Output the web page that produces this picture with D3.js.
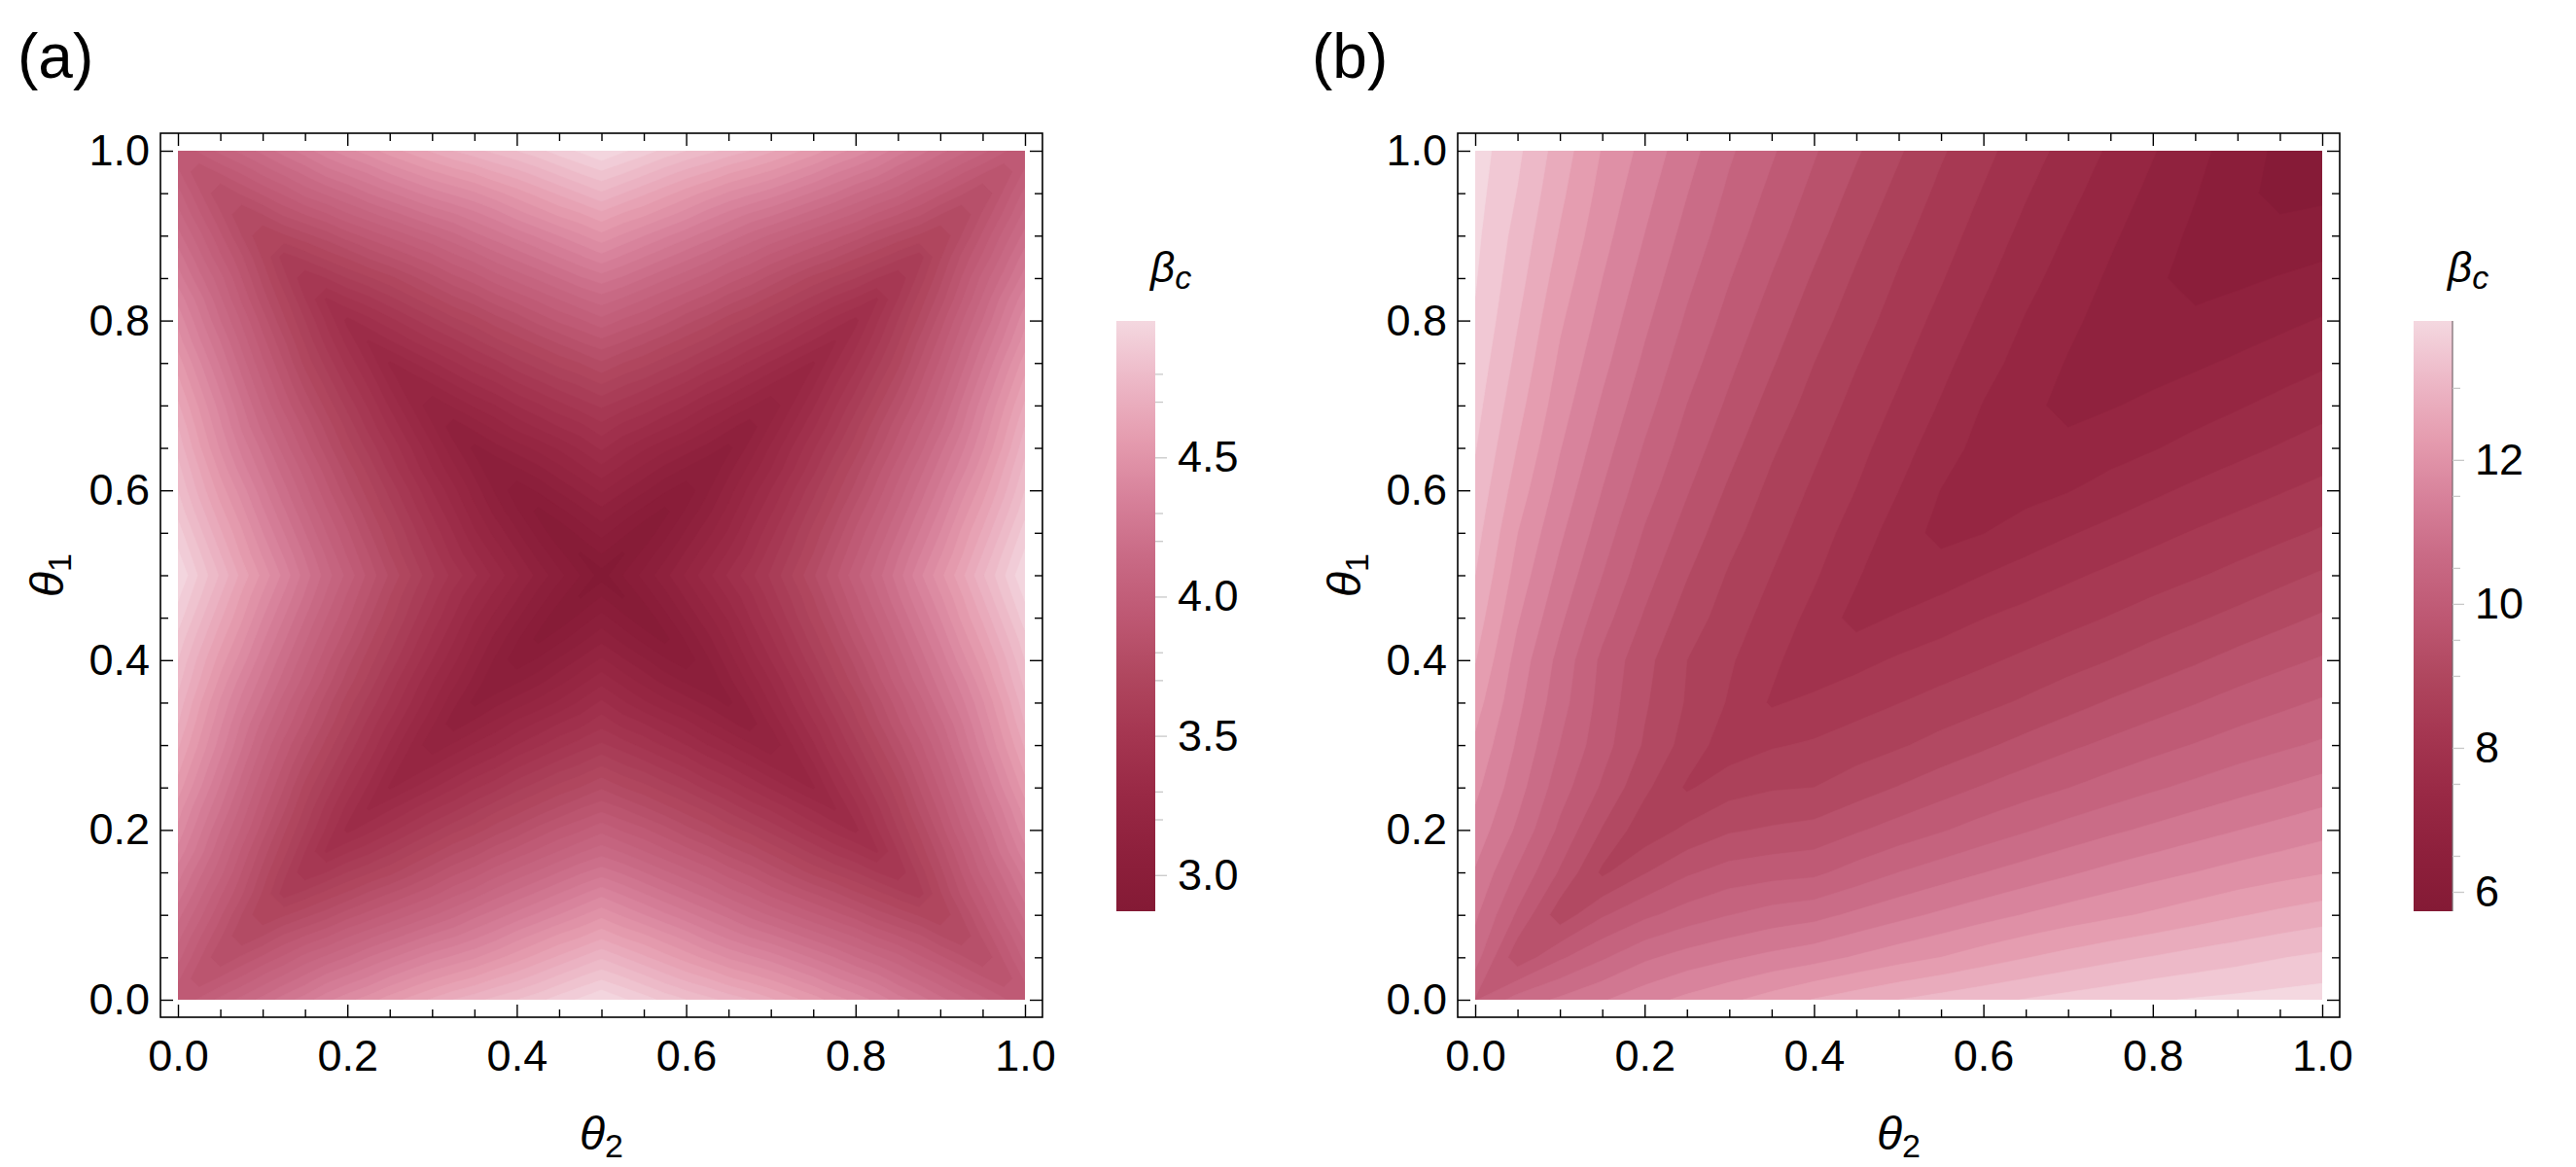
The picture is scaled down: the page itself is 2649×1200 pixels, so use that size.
<!DOCTYPE html>
<html>
<head>
<meta charset="utf-8">
<script src="https://cdn.jsdelivr.net/npm/d3@7"></script>
<style>
  body { margin: 0; background: #fff; }
  svg { display: block; }
  text { font-family: "Liberation Sans", Arial, sans-serif; fill: #000; }
</style>
</head>
<body>
<div id="chart"></div>
<script>
(function() {
    'use strict';

    // sample positions (same for theta1 rows and theta2 columns)
    var gridA = [0, 0.025, 0.05, 0.075, 0.1, 0.125, 0.15, 0.175, 0.2, 0.225, 0.25, 0.275, 0.3, 0.325,
                 0.35, 0.375, 0.4, 0.425, 0.45, 0.475, 0.5, 0.525, 0.55, 0.575, 0.6, 0.625, 0.65,
                 0.675, 0.7, 0.725, 0.75, 0.775, 0.8, 0.825, 0.85, 0.875, 0.9, 0.925, 0.95, 0.975, 1];
    var gridB = [0, 0.05, 0.1, 0.15, 0.2, 0.25, 0.3, 0.35, 0.4, 0.45, 0.5,
                 0.55, 0.6, 0.65, 0.7, 0.75, 0.8, 0.85, 0.9, 0.95, 1];
    var axisTicks = [0, 0.2, 0.4, 0.6, 0.8, 1.0];
    var axisMinorTicks = [0.05, 0.1, 0.15, 0.25, 0.3, 0.35, 0.45, 0.5, 0.55,
                          0.65, 0.7, 0.75, 0.85, 0.9, 0.95];

    // panel (a): beta_c, row = theta1 (0 -> 1), column = theta2 (0 -> 1)
    var betaA = [
        [3.93,3.99,4.06,4.12,4.18,4.25,4.31,4.38,4.44,4.49,4.55,4.60,4.65,4.70,4.74,4.78,4.82,4.86,4.91,4.95,5.00,4.95,4.91,4.86,4.82,4.78,4.74,4.70,4.65,4.60,4.55,4.49,4.44,4.38,4.31,4.25,4.18,4.12,4.06,3.99,3.93],
        [3.99,3.87,3.93,3.99,4.06,4.12,4.18,4.25,4.30,4.35,4.41,4.46,4.51,4.55,4.59,4.64,4.68,4.73,4.78,4.83,4.87,4.83,4.78,4.73,4.68,4.64,4.59,4.55,4.51,4.46,4.41,4.35,4.30,4.25,4.18,4.12,4.06,3.99,3.93,3.87,3.99],
        [4.06,3.93,3.80,3.87,3.93,3.99,4.06,4.11,4.16,4.22,4.27,4.32,4.37,4.41,4.45,4.50,4.55,4.60,4.65,4.70,4.75,4.70,4.65,4.60,4.55,4.50,4.45,4.41,4.37,4.32,4.27,4.22,4.16,4.11,4.06,3.99,3.93,3.87,3.80,3.93,4.06],
        [4.12,3.99,3.87,3.74,3.80,3.87,3.92,3.97,4.03,4.08,4.13,4.18,4.23,4.27,4.32,4.37,4.43,4.48,4.53,4.57,4.62,4.57,4.53,4.48,4.43,4.37,4.32,4.27,4.23,4.18,4.13,4.08,4.03,3.97,3.92,3.87,3.80,3.74,3.87,3.99,4.12],
        [4.18,4.06,3.93,3.80,3.68,3.73,3.78,3.83,3.89,3.94,3.99,4.04,4.09,4.14,4.20,4.25,4.30,4.35,4.40,4.45,4.50,4.45,4.40,4.35,4.30,4.25,4.20,4.14,4.09,4.04,3.99,3.94,3.89,3.83,3.78,3.73,3.68,3.80,3.93,4.06,4.18],
        [4.25,4.12,3.99,3.87,3.73,3.59,3.64,3.70,3.75,3.81,3.86,3.91,3.96,4.02,4.07,4.13,4.18,4.23,4.28,4.33,4.38,4.33,4.28,4.23,4.18,4.13,4.07,4.02,3.96,3.91,3.86,3.81,3.75,3.70,3.64,3.59,3.73,3.87,3.99,4.12,4.25],
        [4.31,4.18,4.06,3.92,3.78,3.64,3.51,3.56,3.62,3.67,3.72,3.78,3.84,3.90,3.95,4.01,4.06,4.11,4.16,4.21,4.25,4.21,4.16,4.11,4.06,4.01,3.95,3.90,3.84,3.78,3.72,3.67,3.62,3.56,3.51,3.64,3.78,3.92,4.06,4.18,4.31],
        [4.38,4.25,4.11,3.97,3.83,3.70,3.56,3.43,3.49,3.54,3.60,3.66,3.72,3.78,3.83,3.89,3.94,3.99,4.04,4.09,4.13,4.09,4.04,3.99,3.94,3.89,3.83,3.78,3.72,3.66,3.60,3.54,3.49,3.43,3.56,3.70,3.83,3.97,4.11,4.25,4.38],
        [4.44,4.30,4.16,4.03,3.89,3.75,3.62,3.49,3.36,3.42,3.48,3.54,3.60,3.66,3.71,3.77,3.82,3.88,3.93,3.97,4.02,3.97,3.93,3.88,3.82,3.77,3.71,3.66,3.60,3.54,3.48,3.42,3.36,3.49,3.62,3.75,3.89,4.03,4.16,4.30,4.44],
        [4.49,4.35,4.22,4.08,3.94,3.81,3.67,3.54,3.42,3.31,3.37,3.43,3.49,3.54,3.60,3.66,3.71,3.76,3.81,3.86,3.90,3.86,3.81,3.76,3.71,3.66,3.60,3.54,3.49,3.43,3.37,3.31,3.42,3.54,3.67,3.81,3.94,4.08,4.22,4.35,4.49],
        [4.55,4.41,4.27,4.13,3.99,3.86,3.72,3.60,3.48,3.37,3.25,3.31,3.37,3.43,3.49,3.54,3.60,3.65,3.70,3.74,3.79,3.74,3.70,3.65,3.60,3.54,3.49,3.43,3.37,3.31,3.25,3.37,3.48,3.60,3.72,3.86,3.99,4.13,4.27,4.41,4.55],
        [4.60,4.46,4.32,4.18,4.04,3.91,3.78,3.66,3.54,3.43,3.31,3.20,3.26,3.32,3.38,3.43,3.49,3.54,3.59,3.63,3.68,3.63,3.59,3.54,3.49,3.43,3.38,3.32,3.26,3.20,3.31,3.43,3.54,3.66,3.78,3.91,4.04,4.18,4.32,4.46,4.60],
        [4.65,4.51,4.37,4.23,4.09,3.96,3.84,3.72,3.60,3.49,3.37,3.26,3.15,3.21,3.27,3.32,3.38,3.43,3.48,3.53,3.57,3.53,3.48,3.43,3.38,3.32,3.27,3.21,3.15,3.26,3.37,3.49,3.60,3.72,3.84,3.96,4.09,4.23,4.37,4.51,4.65],
        [4.70,4.55,4.41,4.27,4.14,4.02,3.90,3.78,3.66,3.54,3.43,3.32,3.21,3.10,3.16,3.22,3.28,3.33,3.38,3.42,3.48,3.42,3.38,3.33,3.28,3.22,3.16,3.10,3.21,3.32,3.43,3.54,3.66,3.78,3.90,4.02,4.14,4.27,4.41,4.55,4.70],
        [4.74,4.59,4.45,4.32,4.20,4.07,3.95,3.83,3.71,3.60,3.49,3.38,3.27,3.16,3.06,3.12,3.17,3.22,3.27,3.33,3.39,3.33,3.27,3.22,3.17,3.12,3.06,3.16,3.27,3.38,3.49,3.60,3.71,3.83,3.95,4.07,4.20,4.32,4.45,4.59,4.74],
        [4.78,4.64,4.50,4.37,4.25,4.13,4.01,3.89,3.77,3.66,3.54,3.43,3.32,3.22,3.12,3.02,3.07,3.12,3.18,3.24,3.30,3.24,3.18,3.12,3.07,3.02,3.12,3.22,3.32,3.43,3.54,3.66,3.77,3.89,4.01,4.13,4.25,4.37,4.50,4.64,4.78],
        [4.82,4.68,4.55,4.43,4.30,4.18,4.06,3.94,3.82,3.71,3.60,3.49,3.38,3.28,3.17,3.07,2.98,3.03,3.09,3.15,3.21,3.15,3.09,3.03,2.98,3.07,3.17,3.28,3.38,3.49,3.60,3.71,3.82,3.94,4.06,4.18,4.30,4.43,4.55,4.68,4.82],
        [4.86,4.73,4.60,4.48,4.35,4.23,4.11,3.99,3.88,3.76,3.65,3.54,3.43,3.33,3.22,3.12,3.03,2.94,3.00,3.06,3.12,3.06,3.00,2.94,3.03,3.12,3.22,3.33,3.43,3.54,3.65,3.76,3.88,3.99,4.11,4.23,4.35,4.48,4.60,4.73,4.86],
        [4.91,4.78,4.65,4.53,4.40,4.28,4.16,4.04,3.93,3.81,3.70,3.59,3.48,3.38,3.27,3.18,3.09,3.00,2.91,2.98,3.04,2.98,2.91,3.00,3.09,3.18,3.27,3.38,3.48,3.59,3.70,3.81,3.93,4.04,4.16,4.28,4.40,4.53,4.65,4.78,4.91],
        [4.95,4.83,4.70,4.57,4.45,4.33,4.21,4.09,3.97,3.86,3.74,3.63,3.53,3.42,3.33,3.24,3.15,3.06,2.98,2.89,2.96,2.89,2.98,3.06,3.15,3.24,3.33,3.42,3.53,3.63,3.74,3.86,3.97,4.09,4.21,4.33,4.45,4.57,4.70,4.83,4.95],
        [5.00,4.87,4.75,4.62,4.50,4.38,4.25,4.13,4.02,3.90,3.79,3.68,3.57,3.48,3.39,3.30,3.21,3.12,3.04,2.96,2.87,2.96,3.04,3.12,3.21,3.30,3.39,3.48,3.57,3.68,3.79,3.90,4.02,4.13,4.25,4.38,4.50,4.62,4.75,4.87,5.00],
        [4.95,4.83,4.70,4.57,4.45,4.33,4.21,4.09,3.97,3.86,3.74,3.63,3.53,3.42,3.33,3.24,3.15,3.06,2.98,2.89,2.96,2.89,2.98,3.06,3.15,3.24,3.33,3.42,3.53,3.63,3.74,3.86,3.97,4.09,4.21,4.33,4.45,4.57,4.70,4.83,4.95],
        [4.91,4.78,4.65,4.53,4.40,4.28,4.16,4.04,3.93,3.81,3.70,3.59,3.48,3.38,3.27,3.18,3.09,3.00,2.91,2.98,3.04,2.98,2.91,3.00,3.09,3.18,3.27,3.38,3.48,3.59,3.70,3.81,3.93,4.04,4.16,4.28,4.40,4.53,4.65,4.78,4.91],
        [4.86,4.73,4.60,4.48,4.35,4.23,4.11,3.99,3.88,3.76,3.65,3.54,3.43,3.33,3.22,3.12,3.03,2.94,3.00,3.06,3.12,3.06,3.00,2.94,3.03,3.12,3.22,3.33,3.43,3.54,3.65,3.76,3.88,3.99,4.11,4.23,4.35,4.48,4.60,4.73,4.86],
        [4.82,4.68,4.55,4.43,4.30,4.18,4.06,3.94,3.82,3.71,3.60,3.49,3.38,3.28,3.17,3.07,2.98,3.03,3.09,3.15,3.21,3.15,3.09,3.03,2.98,3.07,3.17,3.28,3.38,3.49,3.60,3.71,3.82,3.94,4.06,4.18,4.30,4.43,4.55,4.68,4.82],
        [4.78,4.64,4.50,4.37,4.25,4.13,4.01,3.89,3.77,3.66,3.54,3.43,3.32,3.22,3.12,3.02,3.07,3.12,3.18,3.24,3.30,3.24,3.18,3.12,3.07,3.02,3.12,3.22,3.32,3.43,3.54,3.66,3.77,3.89,4.01,4.13,4.25,4.37,4.50,4.64,4.78],
        [4.74,4.59,4.45,4.32,4.20,4.07,3.95,3.83,3.71,3.60,3.49,3.38,3.27,3.16,3.06,3.12,3.17,3.22,3.27,3.33,3.39,3.33,3.27,3.22,3.17,3.12,3.06,3.16,3.27,3.38,3.49,3.60,3.71,3.83,3.95,4.07,4.20,4.32,4.45,4.59,4.74],
        [4.70,4.55,4.41,4.27,4.14,4.02,3.90,3.78,3.66,3.54,3.43,3.32,3.21,3.10,3.16,3.22,3.28,3.33,3.38,3.42,3.48,3.42,3.38,3.33,3.28,3.22,3.16,3.10,3.21,3.32,3.43,3.54,3.66,3.78,3.90,4.02,4.14,4.27,4.41,4.55,4.70],
        [4.65,4.51,4.37,4.23,4.09,3.96,3.84,3.72,3.60,3.49,3.37,3.26,3.15,3.21,3.27,3.32,3.38,3.43,3.48,3.53,3.57,3.53,3.48,3.43,3.38,3.32,3.27,3.21,3.15,3.26,3.37,3.49,3.60,3.72,3.84,3.96,4.09,4.23,4.37,4.51,4.65],
        [4.60,4.46,4.32,4.18,4.04,3.91,3.78,3.66,3.54,3.43,3.31,3.20,3.26,3.32,3.38,3.43,3.49,3.54,3.59,3.63,3.68,3.63,3.59,3.54,3.49,3.43,3.38,3.32,3.26,3.20,3.31,3.43,3.54,3.66,3.78,3.91,4.04,4.18,4.32,4.46,4.60],
        [4.55,4.41,4.27,4.13,3.99,3.86,3.72,3.60,3.48,3.37,3.25,3.31,3.37,3.43,3.49,3.54,3.60,3.65,3.70,3.74,3.79,3.74,3.70,3.65,3.60,3.54,3.49,3.43,3.37,3.31,3.25,3.37,3.48,3.60,3.72,3.86,3.99,4.13,4.27,4.41,4.55],
        [4.49,4.35,4.22,4.08,3.94,3.81,3.67,3.54,3.42,3.31,3.37,3.43,3.49,3.54,3.60,3.66,3.71,3.76,3.81,3.86,3.90,3.86,3.81,3.76,3.71,3.66,3.60,3.54,3.49,3.43,3.37,3.31,3.42,3.54,3.67,3.81,3.94,4.08,4.22,4.35,4.49],
        [4.44,4.30,4.16,4.03,3.89,3.75,3.62,3.49,3.36,3.42,3.48,3.54,3.60,3.66,3.71,3.77,3.82,3.88,3.93,3.97,4.02,3.97,3.93,3.88,3.82,3.77,3.71,3.66,3.60,3.54,3.48,3.42,3.36,3.49,3.62,3.75,3.89,4.03,4.16,4.30,4.44],
        [4.38,4.25,4.11,3.97,3.83,3.70,3.56,3.43,3.49,3.54,3.60,3.66,3.72,3.78,3.83,3.89,3.94,3.99,4.04,4.09,4.13,4.09,4.04,3.99,3.94,3.89,3.83,3.78,3.72,3.66,3.60,3.54,3.49,3.43,3.56,3.70,3.83,3.97,4.11,4.25,4.38],
        [4.31,4.18,4.06,3.92,3.78,3.64,3.51,3.56,3.62,3.67,3.72,3.78,3.84,3.90,3.95,4.01,4.06,4.11,4.16,4.21,4.25,4.21,4.16,4.11,4.06,4.01,3.95,3.90,3.84,3.78,3.72,3.67,3.62,3.56,3.51,3.64,3.78,3.92,4.06,4.18,4.31],
        [4.25,4.12,3.99,3.87,3.73,3.59,3.64,3.70,3.75,3.81,3.86,3.91,3.96,4.02,4.07,4.13,4.18,4.23,4.28,4.33,4.38,4.33,4.28,4.23,4.18,4.13,4.07,4.02,3.96,3.91,3.86,3.81,3.75,3.70,3.64,3.59,3.73,3.87,3.99,4.12,4.25],
        [4.18,4.06,3.93,3.80,3.68,3.73,3.78,3.83,3.89,3.94,3.99,4.04,4.09,4.14,4.20,4.25,4.30,4.35,4.40,4.45,4.50,4.45,4.40,4.35,4.30,4.25,4.20,4.14,4.09,4.04,3.99,3.94,3.89,3.83,3.78,3.73,3.68,3.80,3.93,4.06,4.18],
        [4.12,3.99,3.87,3.74,3.80,3.87,3.92,3.97,4.03,4.08,4.13,4.18,4.23,4.27,4.32,4.37,4.43,4.48,4.53,4.57,4.62,4.57,4.53,4.48,4.43,4.37,4.32,4.27,4.23,4.18,4.13,4.08,4.03,3.97,3.92,3.87,3.80,3.74,3.87,3.99,4.12],
        [4.06,3.93,3.80,3.87,3.93,3.99,4.06,4.11,4.16,4.22,4.27,4.32,4.37,4.41,4.45,4.50,4.55,4.60,4.65,4.70,4.75,4.70,4.65,4.60,4.55,4.50,4.45,4.41,4.37,4.32,4.27,4.22,4.16,4.11,4.06,3.99,3.93,3.87,3.80,3.93,4.06],
        [3.99,3.87,3.93,3.99,4.06,4.12,4.18,4.25,4.30,4.35,4.41,4.46,4.51,4.55,4.59,4.64,4.68,4.73,4.78,4.83,4.87,4.83,4.78,4.73,4.68,4.64,4.59,4.55,4.51,4.46,4.41,4.35,4.30,4.25,4.18,4.12,4.06,3.99,3.93,3.87,3.99],
        [3.93,3.99,4.06,4.12,4.18,4.25,4.31,4.38,4.44,4.49,4.55,4.60,4.65,4.70,4.74,4.78,4.82,4.86,4.91,4.95,5.00,4.95,4.91,4.86,4.82,4.78,4.74,4.70,4.65,4.60,4.55,4.49,4.44,4.38,4.31,4.25,4.18,4.12,4.06,3.99,3.93]
    ];

    // panel (b): beta_c, row = theta1 (0 -> 1), column = theta2 (0 -> 1)
    var betaB = [
        [10.1, 10.7, 11.0, 11.29, 11.58, 11.83, 12.05, 12.3, 12.55, 12.75, 12.93, 13.08, 13.22, 13.35, 13.47, 13.58, 13.69, 13.76, 13.82, 13.88, 13.93],
        [10.7, 9.45, 10.06, 10.47, 10.85, 11.09, 11.27, 11.43, 11.57, 11.77, 11.96, 12.13, 12.33, 12.51, 12.67, 12.82, 12.95, 13.08, 13.19, 13.31, 13.41],
        [11.0, 10.06, 9.1, 9.68, 10.04, 10.31, 10.52, 10.69, 10.80, 11.01, 11.21, 11.40, 11.58, 11.75, 11.91, 12.05, 12.19, 12.34, 12.49, 12.62, 12.74],
        [11.29, 10.47, 9.68, 8.85, 9.30, 9.67, 9.89, 9.98, 10.04, 10.29, 10.53, 10.73, 10.92, 11.10, 11.27, 11.44, 11.59, 11.73, 11.87, 11.99, 12.1],
        [11.58, 10.85, 10.04, 9.30, 8.67, 9.02, 9.28, 9.38, 9.46, 9.68, 9.89, 10.09, 10.30, 10.49, 10.68, 10.85, 11.01, 11.17, 11.32, 11.46, 11.6],
        [11.83, 11.09, 10.31, 9.67, 9.02, 8.47, 8.77, 8.89, 8.93, 9.14, 9.35, 9.56, 9.76, 9.95, 10.12, 10.30, 10.47, 10.63, 10.79, 10.94, 11.09],
        [12.05, 11.27, 10.52, 9.89, 9.28, 8.77, 8.3, 8.49, 8.58, 8.73, 8.88, 9.07, 9.26, 9.46, 9.65, 9.82, 9.99, 10.15, 10.31, 10.45, 10.59],
        [12.3, 11.43, 10.69, 9.98, 9.38, 8.89, 8.49, 8.08, 8.23, 8.37, 8.52, 8.67, 8.82, 8.99, 9.18, 9.37, 9.54, 9.71, 9.88, 10.03, 10.18],
        [12.55, 11.57, 10.80, 10.04, 9.46, 8.93, 8.58, 8.23, 7.83, 8.01, 8.18, 8.32, 8.46, 8.61, 8.77, 8.93, 9.11, 9.28, 9.46, 9.62, 9.77],
        [12.75, 11.77, 11.01, 10.29, 9.68, 9.14, 8.73, 8.37, 8.01, 7.58, 7.78, 7.95, 8.12, 8.26, 8.40, 8.55, 8.71, 8.87, 9.04, 9.21, 9.38],
        [12.93, 11.96, 11.21, 10.53, 9.89, 9.35, 8.88, 8.52, 8.18, 7.78, 7.33, 7.54, 7.73, 7.90, 8.06, 8.21, 8.35, 8.49, 8.64, 8.81, 8.98],
        [13.08, 12.13, 11.40, 10.73, 10.09, 9.56, 9.07, 8.67, 8.32, 7.95, 7.54, 7.2, 7.32, 7.51, 7.69, 7.85, 8.01, 8.16, 8.30, 8.43, 8.58],
        [13.22, 12.33, 11.58, 10.92, 10.30, 9.76, 9.26, 8.82, 8.46, 8.12, 7.73, 7.32, 7.06, 7.19, 7.31, 7.48, 7.65, 7.81, 7.96, 8.10, 8.24],
        [13.35, 12.51, 11.75, 11.10, 10.49, 9.95, 9.46, 8.99, 8.61, 8.26, 7.90, 7.51, 7.19, 6.93, 7.05, 7.17, 7.30, 7.46, 7.61, 7.76, 7.91],
        [13.47, 12.67, 11.91, 11.27, 10.68, 10.12, 9.65, 9.18, 8.77, 8.40, 8.06, 7.69, 7.31, 7.05, 6.80, 6.90, 7.02, 7.15, 7.29, 7.44, 7.59],
        [13.58, 12.82, 12.05, 11.44, 10.85, 10.30, 9.82, 9.37, 8.93, 8.55, 8.21, 7.85, 7.48, 7.17, 6.90, 6.66, 6.77, 6.87, 6.99, 7.13, 7.27],
        [13.69, 12.95, 12.19, 11.59, 11.01, 10.47, 9.99, 9.54, 9.11, 8.71, 8.35, 8.01, 7.65, 7.30, 7.02, 6.77, 6.53, 6.62, 6.72, 6.83, 6.96],
        [13.76, 13.08, 12.34, 11.73, 11.17, 10.63, 10.15, 9.71, 9.28, 8.87, 8.49, 8.16, 7.81, 7.46, 7.15, 6.87, 6.62, 6.36, 6.45, 6.55, 6.65],
        [13.82, 13.19, 12.49, 11.87, 11.32, 10.79, 10.31, 9.88, 9.46, 9.04, 8.64, 8.30, 7.96, 7.61, 7.29, 6.99, 6.72, 6.45, 6.2, 6.27, 6.34],
        [13.88, 13.31, 12.62, 11.99, 11.46, 10.94, 10.45, 10.03, 9.62, 9.21, 8.81, 8.43, 8.10, 7.76, 7.44, 7.13, 6.83, 6.55, 6.27, 5.99, 6.04],
        [13.93, 13.41, 12.74, 12.1, 11.6, 11.09, 10.59, 10.18, 9.77, 9.38, 8.98, 8.58, 8.24, 7.91, 7.59, 7.27, 6.96, 6.65, 6.34, 6.04, 5.75]
    ];

    // colour bar ranges and ticks
    var rangeA = [2.87, 4.99];
    var rangeB = [5.73, 13.93];
    var barTicksA = [3.0, 3.5, 4.0, 4.5];
    var barMinorA = [3.2, 3.3, 3.7, 3.8, 4.2, 4.3, 4.7, 4.8];
    var barTicksB = [6, 8, 10, 12];
    var barMinorB = [6.5, 7.5, 9, 9.5, 10.5, 11.5, 13];

    // rose colour ramp, dark -> light
    var rampStops = [0, 0.1, 0.2, 0.3, 0.4, 0.5, 0.6, 0.7, 0.8, 0.9, 1];
    var rampColors = ["#841a35", "#8e203c", "#992945", "#a53651", "#b0475f", "#be5873",
                      "#c96a85", "#d7819a", "#e59caf", "#edb8c7", "#f4d8e0"];

    var W = 2649, H = 1200;
    var plotTop = 155, plotW = 871, plotH = 873, pad = 18;
    var fontFamily = '"Liberation Sans", Arial, sans-serif';

    var svg = d3.select("#chart").append("svg")
        .attr("width", W)
        .attr("height", H);
    svg.append("rect").attr("width", W).attr("height", H).attr("fill", "#fff");
    var defs = svg.append("defs");

    var ramp = d3.scaleLinear().domain(rampStops).range(rampColors).interpolate(d3.interpolateRgb);

    function drawPanel(cfg) {
        var left = cfg.left;
        var x = d3.scaleLinear().domain([0, 1]).range([left, left + plotW]);
        var y = d3.scaleLinear().domain([0, 1]).range([plotTop + plotH, plotTop]);
        var norm = d3.scaleLinear().domain(cfg.range).range([0, 1]).clamp(true);
        var color = v => ramp(norm(v));

        var n = cfg.values[0].length, m = cfg.values.length;
        // contour coordinates: sample k sits at k + 0.5
        var colTheta = d3.scaleLinear().domain([0.5, n - 0.5]).range([cfg.grid[0], cfg.grid[n - 1]]);
        var rowTheta = d3.scaleLinear().domain([0.5, m - 0.5]).range([cfg.grid[0], cfg.grid[m - 1]]);

        var flat = [];
        cfg.values.forEach(row => row.forEach(v => flat.push(v)));

        var contours = d3.contours()
            .size([n, m])
            .thresholds(cfg.thresholds)(flat);

        var proj = d3.geoTransform({
            point: function(px, py) {
                this.stream.point(x(colTheta(px)), y(rowTheta(py)));
            }
        });
        var path = d3.geoPath(proj);

        defs.append("clipPath").attr("id", "clip-" + cfg.id)
            .append("rect")
            .attr("x", left).attr("y", plotTop)
            .attr("width", plotW).attr("height", plotH);

        svg.append("g")
            .attr("clip-path", "url(#clip-" + cfg.id + ")")
            .selectAll("path")
            .data(contours)
            .enter().append("path")
            .attr("d", path)
            .attr("fill", d => color(d.value + cfg.step / 2))
            .attr("stroke", d => color(d.value + cfg.step / 2))
            .attr("stroke-width", 0.6);

        // frame
        var fx0 = left - pad, fx1 = left + plotW + pad;
        var fy0 = plotTop - pad, fy1 = plotTop + plotH + pad;

        function styleAxis(g) {
            g.select(".domain").remove();
            g.attr("font-size", 45).attr("font-family", fontFamily);
            g.selectAll(".tick line").attr("stroke", "#000").attr("stroke-width", 1.4);
            g.selectAll(".tick text").attr("fill", "#000");
        }

        svg.append("g").attr("transform", "translate(0," + fy1 + ")")
            .call(d3.axisBottom(x).tickValues(axisTicks).tickSize(-13).tickPadding(23).tickFormat(d3.format(".1f")))
            .call(styleAxis);
        svg.append("g").attr("transform", "translate(0," + fy1 + ")")
            .call(d3.axisBottom(x).tickValues(axisMinorTicks).tickSize(-8).tickFormat(""))
            .call(styleAxis);
        svg.append("g").attr("transform", "translate(0," + fy0 + ")")
            .call(d3.axisTop(x).tickValues(axisTicks).tickSize(-13).tickFormat(""))
            .call(styleAxis);
        svg.append("g").attr("transform", "translate(0," + fy0 + ")")
            .call(d3.axisTop(x).tickValues(axisMinorTicks).tickSize(-8).tickFormat(""))
            .call(styleAxis);
        svg.append("g").attr("transform", "translate(" + fx0 + ",0)")
            .call(d3.axisLeft(y).tickValues(axisTicks).tickSize(-13).tickPadding(11).tickFormat(d3.format(".1f")))
            .call(styleAxis);
        svg.append("g").attr("transform", "translate(" + fx0 + ",0)")
            .call(d3.axisLeft(y).tickValues(axisMinorTicks).tickSize(-8).tickFormat(""))
            .call(styleAxis);
        svg.append("g").attr("transform", "translate(" + fx1 + ",0)")
            .call(d3.axisRight(y).tickValues(axisTicks).tickSize(-13).tickFormat(""))
            .call(styleAxis);
        svg.append("g").attr("transform", "translate(" + fx1 + ",0)")
            .call(d3.axisRight(y).tickValues(axisMinorTicks).tickSize(-8).tickFormat(""))
            .call(styleAxis);

        svg.append("rect")
            .attr("x", fx0).attr("y", fy0)
            .attr("width", fx1 - fx0).attr("height", fy1 - fy0)
            .attr("fill", "none")
            .attr("stroke", "#000")
            .attr("stroke-width", 1.6);

        // axis titles
        var xt = svg.append("text")
            .attr("x", left + plotW / 2)
            .attr("y", 1182)
            .attr("text-anchor", "middle")
            .style("font-size", "48px");
        xt.append("tspan").style("font-style", "italic").text("θ");
        xt.append("tspan").attr("dy", 8).style("font-size", "34px").text("2");

        var yt = svg.append("text")
            .attr("transform", "translate(" + (left - 118) + "," + (plotTop + plotH / 2) + ") rotate(-90)")
            .attr("text-anchor", "middle")
            .style("font-size", "48px");
        yt.append("tspan").style("font-style", "italic").text("θ");
        yt.append("tspan").attr("dy", 8).style("font-size", "34px").text("1");

        // panel label
        svg.append("text")
            .attr("x", cfg.labelX)
            .attr("y", 80)
            .style("font-size", "64px")
            .text(cfg.label);

        // colour bar
        var barTop = 330, barBottom = 937, barW = 40;
        var barScale = d3.scaleLinear().domain(cfg.range).range([barBottom, barTop]);
        var grad = defs.append("linearGradient")
            .attr("id", "grad-" + cfg.id)
            .attr("x1", 0).attr("y1", 1).attr("x2", 0).attr("y2", 0);
        grad.selectAll("stop")
            .data(rampStops)
            .enter().append("stop")
            .attr("offset", d => d)
            .attr("stop-color", d => ramp(d));

        svg.append("rect")
            .attr("x", cfg.barX).attr("y", barTop)
            .attr("width", barW).attr("height", barBottom - barTop)
            .attr("fill", "url(#grad-" + cfg.id + ")");
        if (cfg.barEdge) {
            svg.append("line")
                .attr("x1", cfg.barX + barW).attr("x2", cfg.barX + barW)
                .attr("y1", barTop).attr("y2", barBottom)
                .attr("stroke", "#75656b").attr("stroke-width", 1.2);
        }

        function styleBar(g) {
            g.select(".domain").remove();
            g.attr("font-size", 45).attr("font-family", fontFamily);
            g.selectAll(".tick line").attr("stroke", "#c8c8c8").attr("stroke-width", 1.3);
            g.selectAll(".tick text").attr("fill", "#000");
        }
        svg.append("g").attr("transform", "translate(" + (cfg.barX + barW) + ",0)")
            .call(d3.axisRight(barScale).tickValues(cfg.barTicks).tickSize(12).tickPadding(11).tickFormat(cfg.barFormat))
            .call(styleBar);
        svg.append("g").attr("transform", "translate(" + (cfg.barX + barW) + ",0)")
            .call(d3.axisRight(barScale).tickValues(cfg.barMinor).tickSize(8).tickFormat(""))
            .call(styleBar);

        var bt = svg.append("text")
            .attr("x", cfg.barX + 35)
            .attr("y", 290)
            .style("font-size", "44px");
        bt.append("tspan").style("font-style", "italic").text("β");
        bt.append("tspan").attr("dy", 7).style("font-size", "34px").style("font-style", "italic").text("c");
    }

    drawPanel({
        id: "a", label: "(a)", labelX: 18, left: 183,
        grid: gridA, values: betaA, range: rangeA, step: 0.06,
        thresholds: d3.range(2.78, 5.05, 0.06),
        barX: 1148, barTicks: barTicksA, barMinor: barMinorA,
        barFormat: d3.format(".1f"), barEdge: false
    });

    drawPanel({
        id: "b", label: "(b)", labelX: 1349, left: 1517,
        grid: gridB, values: betaB, range: rangeB, step: 0.4,
        thresholds: d3.range(5.33, 14.0, 0.4),
        barX: 2482, barTicks: barTicksB, barMinor: barMinorB,
        barFormat: d3.format("d"), barEdge: true
    });
})();
</script>
</body>
</html>
